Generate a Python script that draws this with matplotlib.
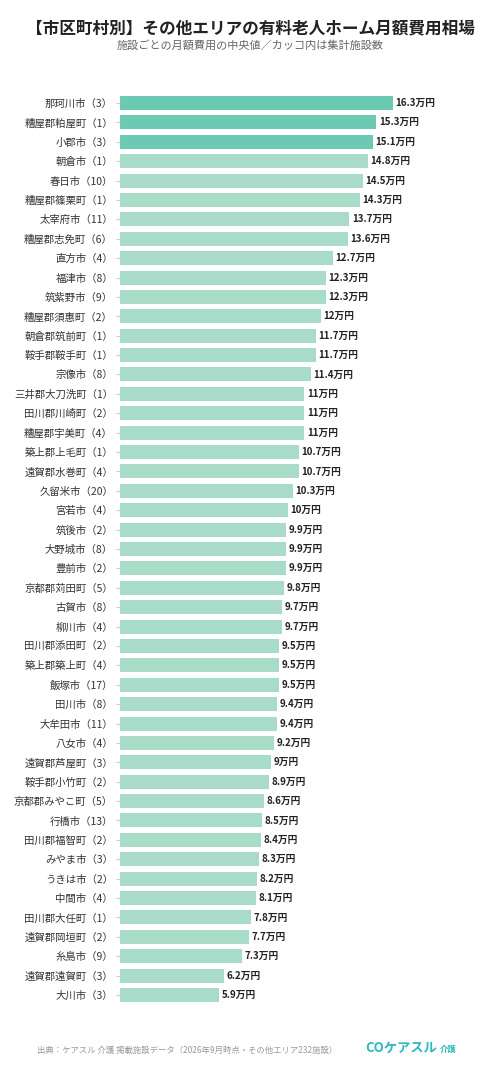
import matplotlib
matplotlib.use("Agg")
import matplotlib.pyplot as plt

plt.rcParams['font.family'] = ['Noto Sans CJK JP', 'DejaVu Sans']

names = ["那珂川市","糟屋郡粕屋町","小郡市","朝倉市","春日市","糟屋郡篠栗町","太宰府市","糟屋郡志免町","直方市","福津市","筑紫野市","糟屋郡須惠町","朝倉郡筑前町","鞍手郡鞍手町","宗像市","三井郡大刀洗町","田川郡川崎町","糟屋郡宇美町","築上郡上毛町","遠賀郡水巻町","久留米市","宮若市","筑後市","大野城市","豊前市","京都郡苅田町","古賀市","柳川市","田川郡添田町","築上郡築上町","飯塚市","田川市","大牟田市","八女市","遠賀郡芦屋町","鞍手郡小竹町","京都郡みやこ町","行橋市","田川郡福智町","みやま市","うきは市","中間市","田川郡大任町","遠賀郡岡垣町","糸島市","遠賀郡遠賀町","大川市"]
counts = [3,1,3,1,10,1,11,6,4,8,9,2,1,1,8,1,2,4,1,4,20,4,2,8,2,5,8,4,2,4,17,8,11,4,3,2,5,13,2,3,2,4,1,2,9,3,3]
values = [16.3,15.3,15.1,14.8,14.5,14.3,13.7,13.6,12.7,12.3,12.3,12.0,11.7,11.7,11.4,11,11,11,10.7,10.7,10.3,10,9.9,9.9,9.9,9.8,9.7,9.7,9.5,9.5,9.5,9.4,9.4,9.2,9.0,8.9,8.6,8.5,8.4,8.3,8.2,8.1,7.8,7.7,7.3,6.2,5.9]

def fmt(v):
    s = f"{v:.1f}"
    if s.endswith(".0"): s = s[:-2]
    return s + "万円"

W, H = 500, 1075
fig = plt.figure(figsize=(W/100, H/100), dpi=100)
n = len(values)
top_y, bot_y = 103, 995
step = (bot_y - top_y) / (n - 1)
ax_top = top_y - step/2
ax_bot = bot_y + step/2
ax = fig.add_axes([120/W, 1 - ax_bot/H, 360/W, (ax_bot - ax_top)/H])
ys = list(range(n))
colors = ["#6ccab4" if i < 3 else "#a8dcc9" for i in range(n)]
ax.barh(ys, values, height=0.72, color=colors)
ax.set_ylim(n - 0.5, -0.5)
ax.set_xlim(0, 360/16.75)
ax.set_yticks(ys)
ax.set_yticklabels([f"{a}（{c}）" for a, c in zip(names, counts)], fontsize=7.5, color="#333333")
ax.tick_params(axis='y', length=3, color="#cccccc", pad=2)
ax.set_xticks([])
for s in ax.spines.values():
    s.set_visible(False)
for y, v in zip(ys, values):
    ax.text(v + 0.15, y, fmt(v), va='center', ha='left', fontsize=7, fontweight='bold', color="#222222")

fig.text(0.5, 1 - 28/H, "【市区町村別】その他エリアの有料老人ホーム月額費用相場", ha='center', va='center', fontsize=12, fontweight='bold', color="#222222")
fig.text(0.5, 1 - 45/H, "施設ごとの月額費用の中央値／カッコ内は集計施設数", ha='center', va='center', fontsize=8, color="#666666")
fig.text(37/W, 1 - 1050/H, "出典：ケアスル 介護 掲載施設データ（2026年9月時点・その他エリア232施設）", ha='left', va='center', fontsize=6, color="#999999")
fig.text(365/W, 1 - 1048/H, "COケアスル", ha='left', va='center', fontsize=9.5, fontweight='bold', color="#2bb8c0")
fig.text(440/W, 1 - 1049/H, "介護", ha='left', va='center', fontsize=6, fontweight='bold', color="#2bb8c0")
fig.savefig("out.png", dpi=100, facecolor="white")
